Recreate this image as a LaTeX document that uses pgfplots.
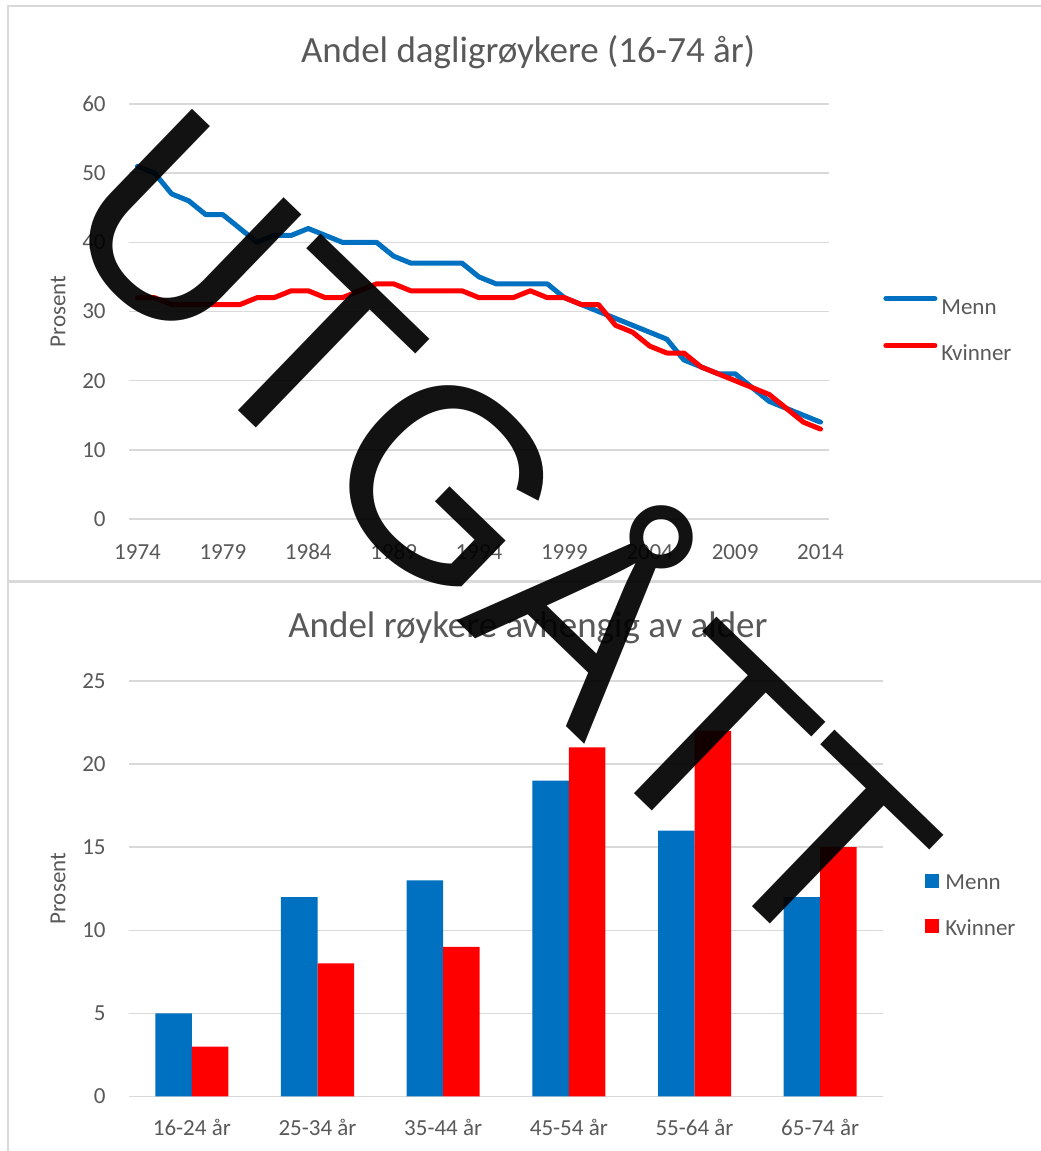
\documentclass[border=0pt]{standalone}
\usepackage{fontspec}
\setmainfont{Carlito}
\newfontfamily\wmfont{Liberation Sans}
\usepackage{pgfplots}
\pgfplotsset{compat=1.18}

\definecolor{txtgray}{HTML}{595959}
\definecolor{gridgray}{HTML}{D9D9D9}
\definecolor{mblue}{HTML}{0070C0}
\definecolor{kred}{HTML}{FF0000}

\pgfplotsset{
  excelchart/.style={
    scale only axis,
    anchor=south west,
    axis line style={draw=none},
    major tick length=0pt,
    ymajorgrids,
    grid style={gridgray, line width=0.75pt},
    tick label style={font=\fontsize{11.5}{13}\selectfont, text=txtgray},
    /pgf/number format/assume math mode=true,
    yticklabel style={anchor=east, inner sep=0pt, xshift=-11.5pt},
    label style={font=\fontsize{11.5}{13}\selectfont, text=txtgray},
    ylabel style={anchor=center, rotate=0},
    every axis title shift=0pt,
    title style={font=\fontsize{18.5}{22}\selectfont, text=txtgray, anchor=base},
    legend style={draw=none, fill=none, anchor=west, inner sep=0pt,
      font=\fontsize{11.5}{13}\selectfont, text=txtgray, row sep=14.5pt,
      nodes={inner sep=0pt, text height=8pt, text depth=0pt}},
    legend cell align=left,
  }
}

\begin{document}
\begin{tikzpicture}
\path[use as bounding box] (0,0) rectangle (520pt,-575.5pt);
\fill[white] (0,0) rectangle (520pt,-575.5pt);
\draw[gridgray, line width=1pt] (4pt,-3pt) rectangle (530pt,-290.5pt);
\draw[gridgray, line width=1pt] (4pt,-291pt) rectangle (530pt,-590pt);

% daily smokers 16-74
\begin{axis}[excelchart,
  at={(64.5pt,-259.5pt)},
  width=350pt, height=207.5pt,
  xmin=1973.5, xmax=2014.5, ymin=0, ymax=60,
  xtick={1974,1979,...,2014}, ytick={0,10,...,60},
  xticklabel style={anchor=base, yshift=-20pt, /pgf/number format/1000 sep={}},
  title={Andel dagligrøykere (16-74 år)},
  title style={at={(axis description cs:0.570,1.101)}},
  ylabel={Prosent},
  ylabel style={at={(axis description cs:-0.1014,0.5)}},
  legend style={at={(axis description cs:1.0771,0.459)},
    /tikz/every odd column/.append style={column sep=2pt}},
  legend image code/.code={\draw[#1, line cap=round] (1.25pt,3.7pt) -- (25.75pt,3.7pt);},
  every axis plot/.append style={line width=2.5pt, line join=round, line cap=round, mark=none},
]
\addplot[mblue] coordinates {
  (1974,51) (1975,50) (1976,47) (1977,46) (1978,44) (1979,44) (1980,42)
  (1981,40) (1982,41) (1983,41) (1984,42) (1985,41) (1986,40) (1987,40)
  (1988,40) (1989,38) (1990,37) (1991,37) (1992,37) (1993,37) (1994,35)
  (1995,34) (1996,34) (1997,34) (1998,34) (1999,32) (2000,31) (2001,30)
  (2002,29) (2003,28) (2004,27) (2005,26) (2006,23) (2007,22) (2008,21)
  (2009,21) (2010,19) (2011,17) (2012,16) (2013,15) (2014,14)
};
\addlegendentry{Menn}
\addplot[kred] coordinates {
  (1974,32) (1975,32) (1976,31) (1977,31) (1978,31) (1979,31) (1980,31)
  (1981,32) (1982,32) (1983,33) (1984,33) (1985,32) (1986,32) (1987,33)
  (1988,34) (1989,34) (1990,33) (1991,33) (1992,33) (1993,33) (1994,32)
  (1995,32) (1996,32) (1997,33) (1998,32) (1999,32) (2000,31) (2001,31)
  (2002,28) (2003,27) (2004,25) (2005,24) (2006,24) (2007,22) (2008,21)
  (2009,20) (2010,19) (2011,18) (2012,16) (2013,14) (2014,13)
};
\addlegendentry{Kvinner}
\end{axis}

% smokers by age
\begin{axis}[excelchart,
  at={(64.5pt,-548.2pt)},
  width=377pt, height=207.7pt,
  xmin=-0.5, xmax=5.5, ymin=0, ymax=25,
  ytick={0,5,...,25},
  xtick={0,...,5},
  xticklabels={16-24 år,25-34 år,35-44 år,45-54 år,55-64 år,65-74 år},
  xticklabel style={anchor=base, yshift=-19.3pt},
  title={Andel røykere avhengig av alder},
  title style={at={(axis description cs:0.529,1.1047)}},
  ylabel={Prosent},
  ylabel style={at={(axis description cs:-0.0942,0.5)}},
  ybar=0pt, bar width=18.25pt,
  legend style={at={(axis description cs:1.0557,0.462)},
    /tikz/every odd column/.append style={column sep=3pt}},
  legend image code/.code={\fill[#1] (0pt,-2.8pt) rectangle (7pt,4.2pt);},
]
\addplot[draw=none, fill=mblue] coordinates {(0,5) (1,12) (2,13) (3,19) (4,16) (5,12)};
\addlegendentry{Menn}
\addplot[draw=none, fill=kred] coordinates {(0,3) (1,8) (2,9) (3,21) (4,22) (5,15)};
\addlegendentry{Kvinner}
\end{axis}

% watermark
\node[rotate=-44, inner sep=0pt, text=black, text opacity=0.93,
  font=\wmfont\fontsize{134}{134}\selectfont] at (257.5pt,-258.5pt) {UTGÅTT};
\end{tikzpicture}
\end{document}
